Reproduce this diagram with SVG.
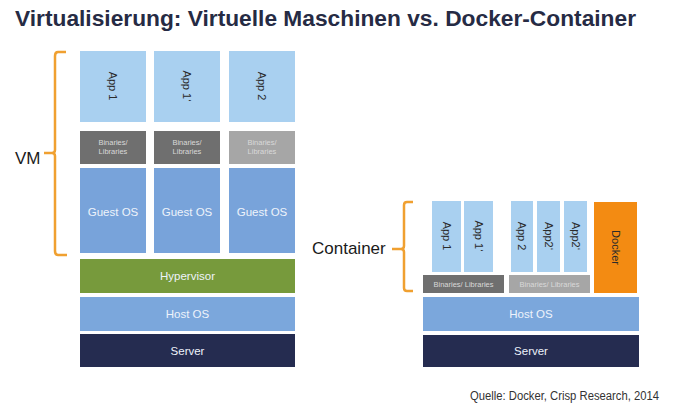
<svg xmlns="http://www.w3.org/2000/svg" width="673" height="415" viewBox="0 0 673 415">
<style>
text{font-family:"Liberation Sans",Arial,sans-serif}
.app{fill:#a9d0f0}
.appt{font-size:11px;fill:#2b2b2b;text-anchor:middle}
.bind{fill:#6f6f6f}
.binl{fill:#a6a6a6}
.bint{font-size:7.5px;fill:#d9d9d9;text-anchor:middle}
.os{fill:#78a3da}
.wt{font-size:11.5px;fill:#eef3fb;text-anchor:middle}
.host{fill:#7ba7dc}
.srv{fill:#252c50}
.brk{fill:none;stroke:#f0a030;stroke-width:2.5;stroke-linejoin:round}
</style>
<rect width="673" height="415" fill="#ffffff"/>
<text x="15" y="26" font-size="21.5" font-weight="bold" fill="#262b44" textLength="621" lengthAdjust="spacingAndGlyphs">Virtualisierung: Virtuelle Maschinen vs. Docker-Container</text>

<g id="brackets">
<path class="brk" d="M66,52 H58 Q55,52 55,56 V150 Q55,153 52,153 H44 M52,153 Q55,153 55,156 V251 Q55,255 58,255 H67"/>
<path class="brk" d="M413,202 H407 Q404,202 404,205 V246 Q404,249 401,249 H392 M401,249 Q404,249 404,252 V288 Q404,291 407,291 H413"/>
</g>
<text x="15" y="164" font-size="17" fill="#1a1a1a">VM</text>
<text x="312" y="254" font-size="17" fill="#1a1a1a">Container</text>

<g id="vm-app1"><rect class="app" x="80" y="51" width="66" height="71"/><text class="appt" transform="translate(113,86) rotate(90)" dy="4">App 1</text></g>
<g id="vm-app1b"><rect class="app" x="154" y="51" width="66" height="71"/><text class="appt" transform="translate(187,86) rotate(90)" dy="4">App 1‘</text></g>
<g id="vm-app2"><rect class="app" x="229" y="51" width="66" height="71"/><text class="appt" transform="translate(262,86) rotate(90)" dy="4">App 2</text></g>

<g id="vm-bin1"><rect class="bind" x="80" y="131" width="66" height="33"/><text class="bint" x="113" y="145">Binaries/</text><text class="bint" x="113" y="154">Libraries</text></g>
<g id="vm-bin2"><rect class="bind" x="154" y="131" width="66" height="33"/><text class="bint" x="187" y="145">Binaries/</text><text class="bint" x="187" y="154">Libraries</text></g>
<g id="vm-bin3"><rect class="binl" x="229" y="131" width="66" height="33"/><text class="bint" x="262" y="145">Binaries/</text><text class="bint" x="262" y="154">Libraries</text></g>

<g id="vm-os1"><rect class="os" x="80" y="168" width="66" height="85"/><text class="wt" x="113" y="216">Guest OS</text></g>
<g id="vm-os2"><rect class="os" x="154" y="168" width="66" height="85"/><text class="wt" x="187" y="216">Guest OS</text></g>
<g id="vm-os3"><rect class="os" x="229" y="168" width="66" height="85"/><text class="wt" x="262" y="216">Guest OS</text></g>

<g id="hypervisor"><rect x="80" y="259" width="215" height="34" fill="#779a3c"/><text class="wt" x="187.5" y="280">Hypervisor</text></g>
<g id="vm-host"><rect class="host" x="80" y="297" width="215" height="34"/><text class="wt" x="187.5" y="318">Host OS</text></g>
<g id="vm-server"><rect class="srv" x="80" y="334" width="215" height="33"/><text class="wt" x="187.5" y="355">Server</text></g>

<g id="c-app1"><rect class="app" x="432" y="201" width="29" height="71"/><text class="appt" transform="translate(446.5,236) rotate(90)" dy="4">App 1</text></g>
<g id="c-app1b"><rect class="app" x="464" y="201" width="29" height="71"/><text class="appt" transform="translate(478.5,236) rotate(90)" dy="4">App 1‘</text></g>
<g id="c-app2"><rect class="app" x="511" y="201" width="22" height="71"/><text class="appt" transform="translate(522,236) rotate(90)" dy="4">App 2</text></g>
<g id="c-app2b"><rect class="app" x="537" y="201" width="23" height="71"/><text class="appt" transform="translate(548.5,236) rotate(90)" dy="4">App2‘</text></g>
<g id="c-app2c"><rect class="app" x="564" y="201" width="23" height="71"/><text class="appt" transform="translate(575.5,236) rotate(90)" dy="4">App2‘</text></g>
<g id="docker"><rect x="594" y="202" width="43" height="91" fill="#f38b12"/><text class="appt" transform="translate(615.5,247.5) rotate(90)" dy="4">Docker</text></g>

<g id="c-bin1"><rect class="bind" x="423" y="275" width="81" height="18"/><text class="bint" x="463.5" y="287">Binaries/ Libraries</text></g>
<g id="c-bin2"><rect class="binl" x="509" y="275" width="81" height="18"/><text class="bint" x="549.5" y="287">Binaries/ Libraries</text></g>
<g id="c-host"><rect class="host" x="423" y="297" width="216" height="34"/><text class="wt" x="531" y="318">Host OS</text></g>
<g id="c-server"><rect class="srv" x="423" y="335" width="216" height="32"/><text class="wt" x="531" y="355">Server</text></g>

<text x="470" y="400" font-size="12" fill="#333333" textLength="189" lengthAdjust="spacingAndGlyphs">Quelle: Docker, Crisp Research, 2014</text>
</svg>
